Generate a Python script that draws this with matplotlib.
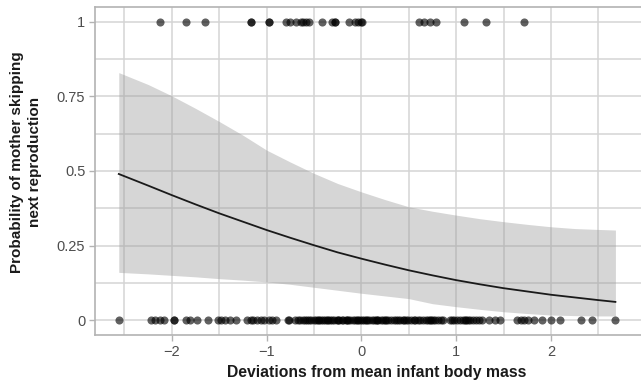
import matplotlib
matplotlib.use("Agg")
import matplotlib.pyplot as plt
from matplotlib.ticker import MultipleLocator

plt.rcParams['font.family'] = ['Liberation Sans', 'DejaVu Sans']

# fitted curve and its confidence band
curve_x = [-2.56, -2.25, -2.0, -1.75, -1.5, -1.25, -1.0, -0.75, -0.5, -0.25, 0.0,
           0.25, 0.5, 0.75, 1.0, 1.25, 1.5, 1.75, 2.0, 2.25, 2.5, 2.68]
curve_fit = [0.490, 0.451, 0.419, 0.388, 0.358, 0.330, 0.302, 0.276, 0.251, 0.227, 0.206,
             0.186, 0.167, 0.150, 0.134, 0.120, 0.107, 0.096, 0.085, 0.076, 0.067, 0.061]
band_upper = [0.830, 0.790, 0.752, 0.710, 0.666, 0.620, 0.570, 0.530, 0.492, 0.458, 0.430,
              0.404, 0.380, 0.365, 0.352, 0.340, 0.330, 0.321, 0.313, 0.307, 0.304, 0.302]
band_lower = [0.160, 0.155, 0.150, 0.145, 0.139, 0.134, 0.128, 0.120, 0.110, 0.100, 0.090,
              0.081, 0.072, 0.055, 0.045, 0.036, 0.028, 0.022, 0.017, 0.015, 0.014, 0.014]

# mothers that skipped (1)
skipped_x = [-2.12, -1.85, -1.65, -1.17, -1.17, -0.98, -0.98, -0.80, -0.75, -0.69, -0.64,
             -0.62, -0.58, -0.55, -0.42, -0.31, -0.28, -0.28, -0.13, -0.07, -0.04, 0.00,
             0.01, 0.61, 0.66, 0.72, 0.79, 1.08, 1.31, 1.72]

# mothers that did not skip (0)
kept_x = [-2.56, -2.22, -2.18, -2.13, -2.08, -1.98, -1.98, -1.85, -1.81, -1.74, -1.62,
          -1.51, -1.48, -1.44, -1.39, -1.32,
          -1.21, -1.17, -1.14, -1.10, -1.06, -1.03, -0.98, -0.94, -0.90, -0.77, -0.76,
          -0.70, -0.67, -0.65, -0.62, -0.60, -0.57, -0.55, -0.53, -0.50, -0.48, -0.46,
          -0.43, -0.41, -0.38, -0.36, -0.33, -0.31, -0.29, -0.26, -0.24, -0.21, -0.19,
          -0.16, -0.14, -0.12, -0.09, -0.07, -0.04, -0.02, 0.01, 0.03, 0.06, 0.08,
          0.11, 0.13, 0.16, 0.18, 0.21, 0.23, 0.26, 0.28, 0.31, 0.34, 0.36, 0.39,
          0.41, 0.44, 0.47, 0.49, 0.52, 0.55, 0.57, 0.60, 0.62, 0.65, 0.68, 0.70,
          0.73, 0.76, 0.78, 0.81, 0.84, 0.86, 0.93, 0.96, 0.98, 1.01, 1.04, 1.07,
          1.09, 1.12, 1.15, 1.18, 1.21, 1.24, 1.27,
          -0.45, -0.35, -0.25, -0.15, -0.05, 0.05, 0.15, 0.25, 0.45, 0.72, 1.10,
          1.35, 1.41, 1.46, 1.64, 1.68, 1.72, 1.76, 1.82, 1.91, 2.00, 2.10, 2.32,
          2.43, 2.68]

x_ticks = [-2, -1, 0, 1, 2]
x_tick_labels = ['\u22122', '\u22121', '0', '1', '2']
y_ticks = [0, 0.25, 0.5, 0.75, 1]
y_tick_labels = ['0', '0.25', '0.5', '0.75', '1']

fig = plt.figure(figsize=(6.41, 3.87), dpi=100)
ax = fig.add_axes([95 / 641, 52 / 387, 546 / 641, 328 / 387])

ax.set_xlim(-2.811, 2.95)
ax.set_ylim(-0.05, 1.05)

grid_col = '#d4d4d4'
ax.set_xticks(x_ticks)
ax.set_xticklabels(x_tick_labels)
ax.set_yticks(y_ticks)
ax.set_yticklabels(y_tick_labels)
ax.xaxis.set_minor_locator(MultipleLocator(0.5))
ax.yaxis.set_minor_locator(MultipleLocator(0.125))
ax.grid(True, which='major', color=grid_col, linewidth=1.1)
ax.grid(True, which='minor', color=grid_col, linewidth=1.1)
ax.set_axisbelow(True)
ax.tick_params(which='minor', length=0)
ax.tick_params(which='major', length=4, color='#b3b3b3', width=1,
               labelsize=10.5, labelcolor='#4d4d4d', pad=3)

for side in ['left', 'bottom', 'top']:
    ax.spines[side].set_color('#b3b3b3')
    ax.spines[side].set_linewidth(1.2)
ax.spines['right'].set_visible(False)

ax.fill_between(curve_x, band_lower, band_upper, color='#999999', alpha=0.4,
                linewidth=0, zorder=2)
ax.plot(curve_x, curve_fit, color='#1a1a1a', linewidth=1.3, zorder=3)

ax.scatter(skipped_x, [1] * len(skipped_x), s=34, color='black', alpha=0.62,
           linewidths=0, zorder=4)
ax.scatter(kept_x, [0] * len(kept_x), s=34, color='black', alpha=0.62,
           linewidths=0, zorder=4)

fig.text(377 / 641, 1 - 372 / 387, 'Deviations from mean infant body mass',
         fontsize=11.3, fontweight='bold', color='#1a1a1a', ha='center', va='center')
fig.text(26 / 641, 1 - 162 / 387, 'Probability of mother skipping\nnext reproduction',
         fontsize=11, fontweight='bold', color='#1a1a1a', ha='center', va='center',
         rotation=90, linespacing=1.3, multialignment='center')

fig.savefig('out.png', dpi=100)
